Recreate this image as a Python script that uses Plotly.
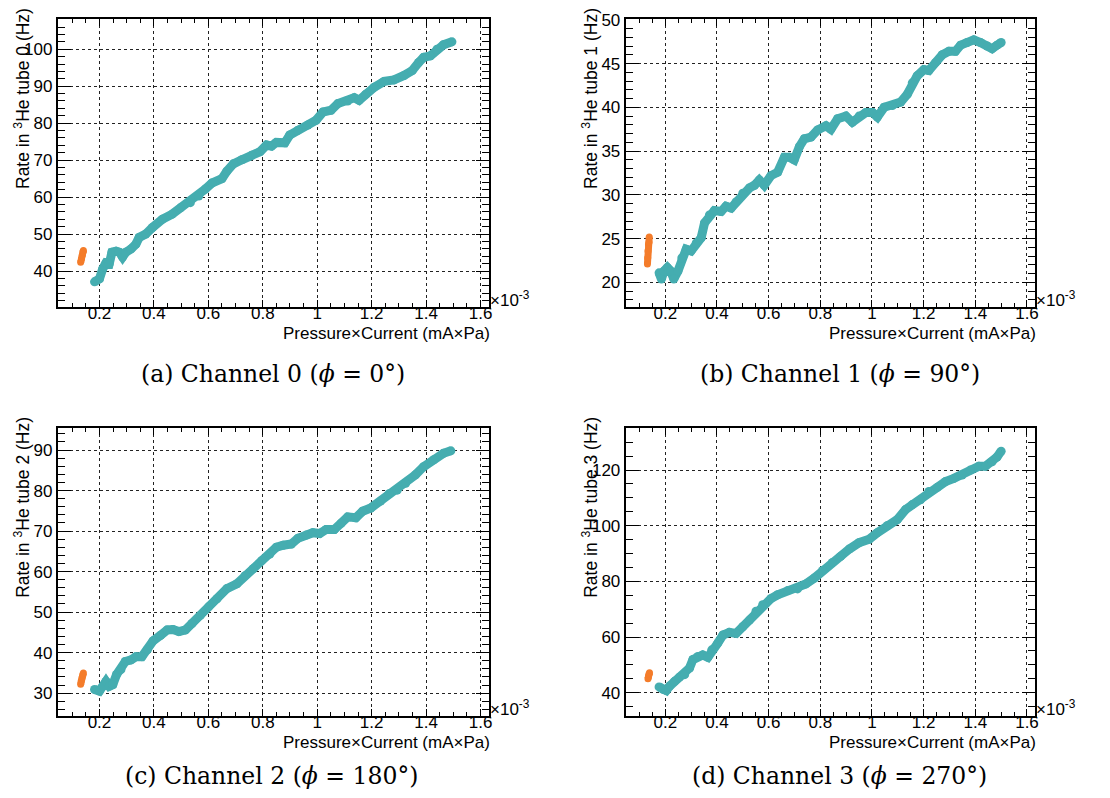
import plotly.graph_objects as go

# ---------------- data (x in units of 1e-3 mA*Pa) ----------------
ch0_x = [0.182, 0.200, 0.212, 0.224, 0.236, 0.246, 0.261, 0.273, 0.285, 0.297, 0.316, 0.334, 0.346,
         0.370, 0.395, 0.431, 0.467, 0.498, 0.534, 0.565, 0.589, 0.613, 0.650, 0.668, 0.692, 0.723,
         0.759, 0.790, 0.814, 0.832, 0.850, 0.881, 0.899, 0.929, 0.966, 0.996, 1.021, 1.051, 1.076,
         1.112, 1.136, 1.154, 1.178, 1.209, 1.246, 1.282, 1.319, 1.349, 1.373, 1.391, 1.416, 1.440,
         1.464, 1.495]
ch0_y = [37.1, 37.9, 40.6, 42.2, 42.0, 45.1, 45.4, 45.1, 43.8, 45.1, 46.0, 47.3, 49.1,
         50.0, 51.8, 54.0, 55.4, 57.1, 58.5, 60.3, 62.2, 63.8, 65.0, 67.0, 69.0, 70.1,
         71.3, 72.3, 74.1, 73.8, 74.8, 74.7, 76.8, 78.1, 79.5, 80.8, 83.0, 83.5, 85.3,
         86.0, 86.9, 86.2, 87.8, 89.7, 91.3, 91.7, 92.9, 94.2, 96.4, 97.8, 98.2, 100.0,
         101.2, 102.0]
ch0_ox = [0.131, 0.134, 0.137, 0.140, 0.141]
ch0_oy = [42.4, 43.3, 44.3, 45.2, 45.6]

ch1_x = [0.176, 0.185, 0.195, 0.208, 0.221, 0.233, 0.249, 0.264, 0.281, 0.300, 0.320, 0.339, 0.352,
         0.371, 0.390, 0.416, 0.435, 0.455, 0.474, 0.500, 0.526, 0.545, 0.564, 0.583, 0.609, 0.635,
         0.661, 0.680, 0.699, 0.719, 0.738, 0.764, 0.789, 0.822, 0.841, 0.867, 0.899, 0.924, 0.950,
         0.976, 1.002, 1.021, 1.047, 1.079, 1.111, 1.137, 1.156, 1.175, 1.201, 1.220, 1.246, 1.272,
         1.298, 1.323, 1.343, 1.368, 1.394, 1.420, 1.446, 1.465, 1.484, 1.500]
ch1_y = [21.1, 20.4, 21.3, 21.7, 21.3, 20.4, 21.3, 22.8, 23.8, 23.6, 24.5, 25.1, 26.8,
         27.7, 28.2, 28.1, 28.7, 28.5, 29.2, 30.2, 30.8, 31.1, 31.7, 31.1, 32.2, 32.6,
         34.3, 34.3, 34.0, 35.5, 36.4, 36.6, 37.4, 37.9, 37.5, 38.7, 39.0, 38.3, 39.0,
         39.4, 39.4, 38.9, 40.0, 40.2, 40.6, 41.5, 42.8, 43.6, 44.3, 44.2, 45.1, 46.0,
         46.4, 46.4, 47.1, 47.4, 47.7, 47.4, 47.0, 46.7, 47.1, 47.4]
ch1_ox = [0.131, 0.132, 0.133, 0.135, 0.137, 0.138]
ch1_oy = [22.1, 22.8, 23.6, 24.3, 24.6, 25.2]

ch2_x = [0.182, 0.200, 0.212, 0.224, 0.236, 0.249, 0.263, 0.279, 0.295, 0.316, 0.334, 0.356, 0.376,
         0.397, 0.425, 0.449, 0.470, 0.492, 0.516, 0.540, 0.571, 0.601, 0.632, 0.668, 0.705, 0.735,
         0.765, 0.796, 0.826, 0.850, 0.875, 0.905, 0.929, 0.960, 0.984, 1.009, 1.033, 1.063, 1.088,
         1.112, 1.142, 1.167, 1.197, 1.233, 1.264, 1.294, 1.325, 1.361, 1.391, 1.428, 1.464, 1.491]
ch2_y = [30.9, 30.5, 31.7, 32.9, 31.7, 32.1, 34.6, 35.8, 37.8, 38.2, 39.0, 39.0, 40.7,
         42.9, 44.3, 45.6, 45.7, 45.2, 45.6, 47.2, 49.2, 51.3, 53.3, 55.8, 57.0, 59.0,
         60.7, 62.7, 64.3, 66.0, 66.5, 66.8, 68.2, 69.0, 69.6, 69.4, 70.4, 70.4, 71.9,
         73.5, 73.3, 74.9, 75.7, 77.4, 79.2, 80.1, 81.8, 83.9, 85.9, 87.6, 89.2, 89.8]
ch2_ox = [0.131, 0.133, 0.136, 0.139, 0.141]
ch2_oy = [32.2, 33.0, 33.8, 34.5, 35.0]

ch3_x = [0.176, 0.191, 0.204, 0.217, 0.236, 0.255, 0.275, 0.294, 0.307, 0.326, 0.345, 0.365, 0.380,
         0.403, 0.423, 0.448, 0.474, 0.500, 0.526, 0.551, 0.577, 0.609, 0.635, 0.674, 0.712, 0.744,
         0.777, 0.809, 0.847, 0.879, 0.912, 0.950, 0.989, 1.021, 1.060, 1.098, 1.130, 1.156, 1.188,
         1.220, 1.253, 1.285, 1.317, 1.349, 1.381, 1.414, 1.439, 1.465, 1.484, 1.500]
ch3_y = [42.1, 41.2, 40.8, 42.4, 44.1, 45.6, 46.5, 48.9, 51.9, 53.0, 53.6, 52.7, 55.4,
         57.8, 60.7, 61.7, 61.3, 63.7, 66.1, 69.3, 71.6, 73.8, 75.2, 76.7, 77.3, 79.1,
         81.2, 83.9, 86.8, 89.0, 91.6, 93.9, 95.1, 97.5, 100.1, 102.2, 105.8, 107.6, 109.3,
         112.3, 113.8, 115.9, 117.0, 118.2, 120.0, 121.4, 121.4, 123.0, 124.7, 126.8]
ch3_ox = [0.133, 0.135, 0.137, 0.139]
ch3_oy = [45.0, 45.8, 46.6, 47.2]

y_titles = ["Rate in <sup>3</sup>He tube 0 (Hz)", "Rate in <sup>3</sup>He tube 1 (Hz)",
            "Rate in <sup>3</sup>He tube 2 (Hz)", "Rate in <sup>3</sup>He tube 3 (Hz)"]
x_title = "Pressure\u00d7Current (mA\u00d7Pa)"
captions = ["(a) Channel 0 (<i>\u03d5</i> = 0\u00b0)", "(b) Channel 1 (<i>\u03d5</i> = 90\u00b0)",
            "(c) Channel 2 (<i>\u03d5</i> = 180\u00b0)", "(d) Channel 3 (<i>\u03d5</i> = 270\u00b0)"]
y_ranges = [[30.3, 108.2], [17.2, 50.1], [24.4, 95.5], [31.7, 135.2]]
y_dticks = [10, 5, 10, 20]
y_minor = [2, 1, 2, 5]
x_range = [0.047, 1.632]

series = [(ch0_x, ch0_y, ch0_ox, ch0_oy), (ch1_x, ch1_y, ch1_ox, ch1_oy),
          (ch2_x, ch2_y, ch2_ox, ch2_oy), (ch3_x, ch3_y, ch3_ox, ch3_oy)]

# ---------------- layout geometry (pixels) ----------------
W, H = 1110, 798
boxes = [(58, 491, 11, 302), (628, 1039, 11, 302), (58, 491, 424, 715), (628, 1039, 424, 715)]
cap_pos = [(274, 370), (843, 370), (272, 776), (843, 776)]

TEAL = "#45adb0"
ORANGE = "#f47c2a"
FONT = "Liberation Sans, Arial, sans-serif"

fig = go.Figure()
layout = dict(width=W, height=H, margin=dict(l=0, r=0, t=0, b=0),
              plot_bgcolor="white", paper_bgcolor="white", showlegend=False,
              annotations=[])

for i, (sx, sy, ox, oy) in enumerate(series):
    n = "" if i == 0 else str(i + 1)
    xa, ya = "x" + n, "y" + n
    fig.add_trace(go.Scatter(x=sx, y=sy, xaxis=xa, yaxis=ya, mode="lines+markers",
                             line=dict(color=TEAL, width=9),
                             marker=dict(color=TEAL, size=9), hoverinfo="skip"))
    fig.add_trace(go.Scatter(x=ox, y=oy, xaxis=xa, yaxis=ya, mode="lines+markers",
                             line=dict(color=ORANGE, width=7),
                             marker=dict(color=ORANGE, size=7), hoverinfo="skip"))
    l, r, t, b = boxes[i]
    common = dict(showline=True, linecolor="black", linewidth=2, mirror="allticks",
                  ticks="inside", tickcolor="black", tickwidth=1,
                  showgrid=True, gridcolor="#222222", griddash="dot", gridwidth=1,
                  zeroline=False,
                  tickfont=dict(family=FONT, size=17, color="black"))
    layout["xaxis" + n] = dict(common, domain=[l / W, r / W], anchor=ya, range=x_range,
                               tick0=0, dtick=0.2, ticklen=7, ticklabelstandoff=-10,
                               minor=dict(dtick=0.05, ticklen=4, ticks="inside",
                                          tickcolor="black", showgrid=False))
    layout["yaxis" + n] = dict(common, domain=[1 - b / H, 1 - t / H], anchor=xa,
                               range=y_ranges[i], tick0=0, dtick=y_dticks[i], ticklen=13,
                               minor=dict(dtick=y_minor[i], ticklen=7, ticks="inside",
                                          tickcolor="black", showgrid=False))
    # y-axis title (right-aligned at top)
    layout["annotations"].append(dict(text=y_titles[i], xref="paper", yref="paper",
                                      x=(l - 36) / W, y=1 - (t + 80) / H, xanchor="center",
                                      yanchor="middle", textangle=-90, showarrow=False,
                                      font=dict(family=FONT, size=17.5, color="black")))
    # x-axis title
    layout["annotations"].append(dict(text=x_title, xref="paper", yref="paper",
                                      x=(r + 3) / W, y=1 - (b + 27) / H, xanchor="right",
                                      yanchor="middle", showarrow=False,
                                      font=dict(family=FONT, size=17, color="black")))
    # exponent
    layout["annotations"].append(dict(text="\u00d710<sup>-3</sup>", xref="paper", yref="paper",
                                      x=(r - 1) / W, y=1 - (b - 8) / H, xanchor="left",
                                      yanchor="middle", showarrow=False,
                                      font=dict(family=FONT, size=17, color="black")))
    # caption
    cx, cy = cap_pos[i]
    layout["annotations"].append(dict(text=captions[i], xref="paper", yref="paper",
                                      x=cx / W, y=1 - cy / H, xanchor="center",
                                      yanchor="middle", showarrow=False,
                                      font=dict(family="DejaVu Serif, serif",
                                                size=23.5, color="black")))

fig.update_layout(**layout)
fig.write_html("out.html", config={"displayModeBar": False},
               post_script="document.body.style.margin='0';document.body.style.padding='0';")
